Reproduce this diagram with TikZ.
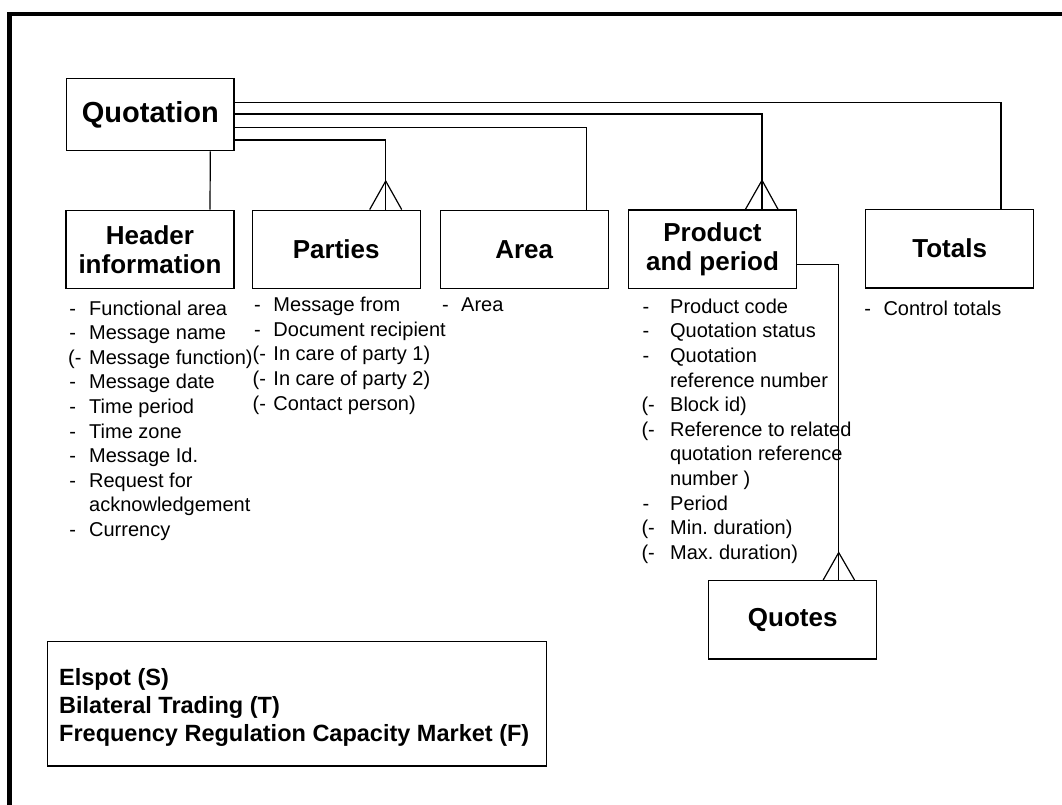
\documentclass[tikz,border=0pt]{standalone}
\usepackage{fontspec}
\setmainfont{Liberation Sans}
\newcommand\hdrfont{\fontsize{26}{29.5}\selectfont\bfseries}
\newcommand\quotfont{\fontsize{29}{33}\selectfont\bfseries}
\newcommand\itemfont{\fontsize{20}{24.6}\selectfont}
\newcommand\legfont{\fontsize{23.5}{28.3}\selectfont\bfseries}
\begin{document}
\begin{tikzpicture}[x=1pt,y=-1pt,
  box/.style={draw, line width=1.4pt, minimum width=168pt, minimum height=78.5pt,
    inner sep=0pt, align=center, font=\hdrfont},
  conn/.style={line width=1.2pt},
  lst/.style={anchor=base west, inner sep=0pt, font=\itemfont}]
\useasboundingbox (0,0) rectangle (1062,805);
% outer frame
\draw[line width=4.2pt] (9.5,812) -- (9.5,14.3) -- (1070,14.3);

% boxes
\node[box, minimum width=167.3pt, minimum height=72.4pt, font=\quotfont] (quot) at (150.3,114.5) {Quotation};
\node[box] (hdr) at (150,249.5) {Header\\information};
\node[box] (par) at (336.2,249.5) {Parties};
\node[box] (area) at (524.2,249.5) {Area};
\node[box] (prod) at (712.5,249.2) {Product\\and period};
\node[box] (tot) at (949.7,248.7) {Totals};
\node[box] (quotes) at (792.7,619.9) {Quotes};

% junction points
\coordinate (jt) at ([xshift=51.3pt]tot.north);
\coordinate (jpr) at ([xshift=49.5pt]prod.north);
\coordinate (ja) at ([xshift=62.3pt]area.north);
\coordinate (jp) at ([xshift=49.5pt]par.north);
\coordinate (jq) at ([xshift=46pt]quotes.north);

% connectors
\draw[conn] ([xshift=60pt]quot.south) -- ([xshift=60pt]hdr.north);
\draw[conn] ([yshift=12.2pt]quot.east) -| (jt);
\draw[conn] ([yshift=0.5pt]quot.east) -| (jpr);
\draw[conn] ([yshift=-12.8pt]quot.east) -| (ja);
\draw[conn] ([yshift=-25.5pt]quot.east) -| (jp);
\draw[conn] ([yshift=-15pt]prod.east) -| (jq);

% crow's feet
\draw[conn] ([xshift=-16pt]jp) -- ([yshift=28.5pt]jp) -- ([xshift=16pt]jp);
\draw[conn] ([xshift=-16.5pt]jpr) -- ([yshift=29pt]jpr) -- ([xshift=16pt]jpr);
\draw[conn] ([xshift=-15.5pt]jq) -- ([yshift=27.4pt]jq) -- ([xshift=15.8pt]jq);

% attribute lists
\node[lst] (hlist) at (67.9,315) {\begin{tabular}[t]{@{}p{21.1pt}@{}l@{}}
\hspace*{1.2pt}- & Functional area\\
\hspace*{1.2pt}- & Message name\\
(- & Message function)\\
\hspace*{1.2pt}- & Message date\\
\hspace*{1.2pt}- & Time period\\
\hspace*{1.2pt}- & Time zone\\
\hspace*{1.2pt}- & Message Id.\\
\hspace*{1.2pt}- & Request for\\
 & acknowledgement\\
\hspace*{1.2pt}- & Currency
\end{tabular}};

\node[lst] (plist) at (252.5,311.7) {\begin{tabular}[t]{@{}p{20.8pt}@{}l@{}}
\hspace*{1.3pt}- & Message from\\
\hspace*{1.3pt}- & Document recipient\\
(- & In care of party 1)\\
(- & In care of party 2)\\
(- & Contact person)
\end{tabular}};

\node[lst] (alist) at (440,311.7) {\begin{tabular}[t]{@{}p{21pt}@{}l@{}}
\hspace*{1.8pt}- & Area
\end{tabular}};

\node[lst] (prlist) at (640,313.3) {\begin{tabular}[t]{@{}p{30pt}@{}l@{}}
\hspace*{2.4pt}- & Product code\\
\hspace*{2.4pt}- & Quotation status\\
\hspace*{2.4pt}- & Quotation\\
 & reference number\\
\hspace*{1.3pt}(- & Block id)\\
\hspace*{1.3pt}(- & Reference to related\\
 & quotation reference\\
 & number )\\
\hspace*{2.4pt}- & Period\\
\hspace*{1.3pt}(- & Min.\ duration)\\
\hspace*{1.3pt}(- & Max.\ duration)
\end{tabular}};

\node[lst] (tlist) at (864,315) {\begin{tabular}[t]{@{}p{19.3pt}@{}l@{}}
\hspace*{0.2pt}- & Control totals
\end{tabular}};

% legend
\node[draw, line width=1.4pt, minimum width=498.9pt, minimum height=124.3pt, inner sep=0pt] (legbox) at (297.15,703.85) {};
\node[anchor=base west, inner sep=0pt, font=\legfont] (legtext) at (59,685) {\begin{tabular}[t]{@{}l@{}}
Elspot (S)\\
Bilateral Trading (T)\\
Frequency Regulation Capacity Market (F)
\end{tabular}};
\end{tikzpicture}
\end{document}
